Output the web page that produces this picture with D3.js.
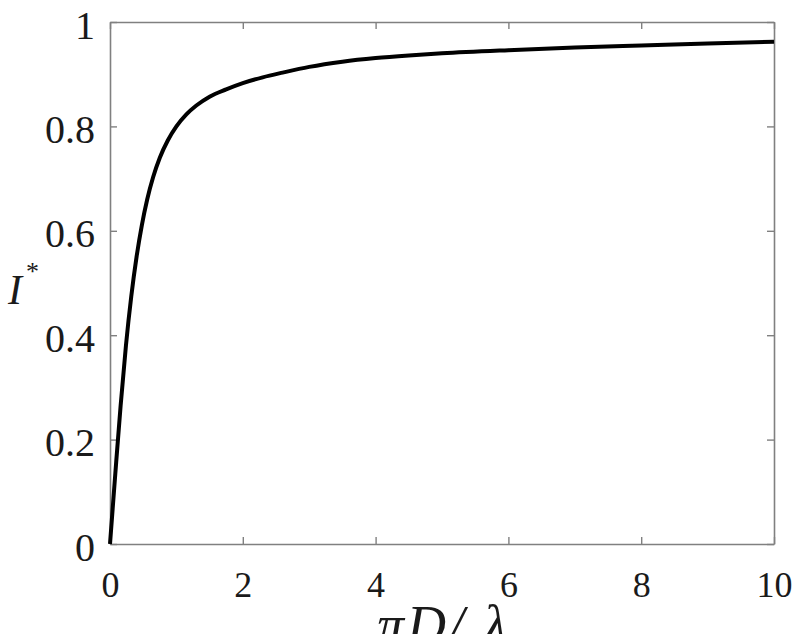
<!DOCTYPE html>
<html>
<head>
<meta charset="utf-8">
<script src="https://cdn.jsdelivr.net/npm/d3@7"></script>
<style>
  html, body { margin: 0; padding: 0; background: #fff; }
  svg { display: block; }
</style>
</head>
<body>
<svg id="chart" width="800" height="634"></svg>
<script>
// Data
const xValues = [0, 0.08, 0.16, 0.24, 0.32, 0.4, 0.48, 0.56, 0.65, 0.75, 0.87, 1.0, 1.15, 1.3, 1.5, 1.75, 2.0, 2.3, 2.6, 3.0, 3.5, 4.0, 4.5, 5.0, 6.0, 7.0, 8.0, 9.0, 10];
const yValues = [0, 0.135, 0.265, 0.38, 0.474, 0.55, 0.611, 0.66, 0.703, 0.74, 0.773, 0.80, 0.823, 0.840, 0.857, 0.871, 0.883, 0.894, 0.903, 0.914, 0.924, 0.931, 0.936, 0.940, 0.946, 0.951, 0.955, 0.959, 0.962];
const xTicks = [0, 2, 4, 6, 8, 10];
const yTicks = [0, 0.2, 0.4, 0.6, 0.8, 1];
const xTickLabels = ["0", "2", "4", "6", "8", "10"];
const yTickLabels = ["0", "0.2", "0.4", "0.6", "0.8", "1"];

const svg = d3.select("#chart");
const pLeft = 110, pRight = 774, pTop = 22, pBottom = 544;

const x = d3.scaleLinear().domain([0, 10]).range([pLeft, pRight]);
const y = d3.scaleLinear().domain([0, 1]).range([pBottom, pTop]);

const axisColor = "#808080";
const textColor = "#1a1a1a";
const font = "'Liberation Serif', 'Times New Roman', serif";

function styleAxis(g) {
  g.select(".domain").attr("stroke", axisColor).attr("stroke-width", 1.6);
  g.selectAll(".tick line").attr("stroke", axisColor).attr("stroke-width", 1.4);
  g.selectAll(".tick text").attr("fill", textColor).style("font-family", font);
}

// Bottom axis
const gx = svg.append("g").attr("transform", `translate(0,${pBottom})`)
  .call(d3.axisBottom(x).tickValues(xTicks).tickFormat((d, i) => xTickLabels[i])
    .tickSizeInner(-7).tickSizeOuter(0).tickPadding(27));
gx.selectAll(".tick text").style("font-size", "36px");
styleAxis(gx);

// Left axis
const gy = svg.append("g").attr("transform", `translate(${pLeft},0)`)
  .call(d3.axisLeft(y).tickValues(yTicks).tickFormat((d, i) => yTickLabels[i])
    .tickSizeInner(-7).tickSizeOuter(0).tickPadding(15));
gy.selectAll(".tick text").style("font-size", "40px").attr("dy", "0.4em");
styleAxis(gy);

// Top axis
const gt = svg.append("g").attr("transform", `translate(0,${pTop})`)
  .call(d3.axisTop(x).tickValues(xTicks).tickFormat("")
    .tickSizeInner(-7).tickSizeOuter(0));
styleAxis(gt);

// Right axis
const gr = svg.append("g").attr("transform", `translate(${pRight},0)`)
  .call(d3.axisRight(y).tickValues(yTicks).tickFormat("")
    .tickSizeInner(-7).tickSizeOuter(0));
styleAxis(gr);

// Curve
const data = xValues.map((v, i) => ({ x: v, y: yValues[i] }));
const line = d3.line().x(d => x(d.x)).y(d => y(d.y)).curve(d3.curveMonotoneX);
svg.append("path").datum(data)
  .attr("fill", "none").attr("stroke", "#000").attr("stroke-width", 4)
  .attr("stroke-linejoin", "round").attr("stroke-linecap", "butt")
  .attr("d", line);

// Y label I*
const yl = svg.append("text").attr("x", 8).attr("y", 304)
  .attr("fill", textColor).style("font-family", font).style("font-size", "42px")
  .style("font-style", "italic");
yl.append("tspan").text("I");
yl.append("tspan").attr("dx", "4").attr("dy", "-24").style("font-size", "26px").style("font-style", "normal").text("*");

// X label
svg.append("text").attr("x", 377).attr("y", 643)
  .attr("fill", textColor).style("font-family", font).style("font-size", "54px")
  .style("font-style", "italic").style("letter-spacing", "3px")
  .text("\u03C0D/ \u03BB");
</script>
</body>
</html>
